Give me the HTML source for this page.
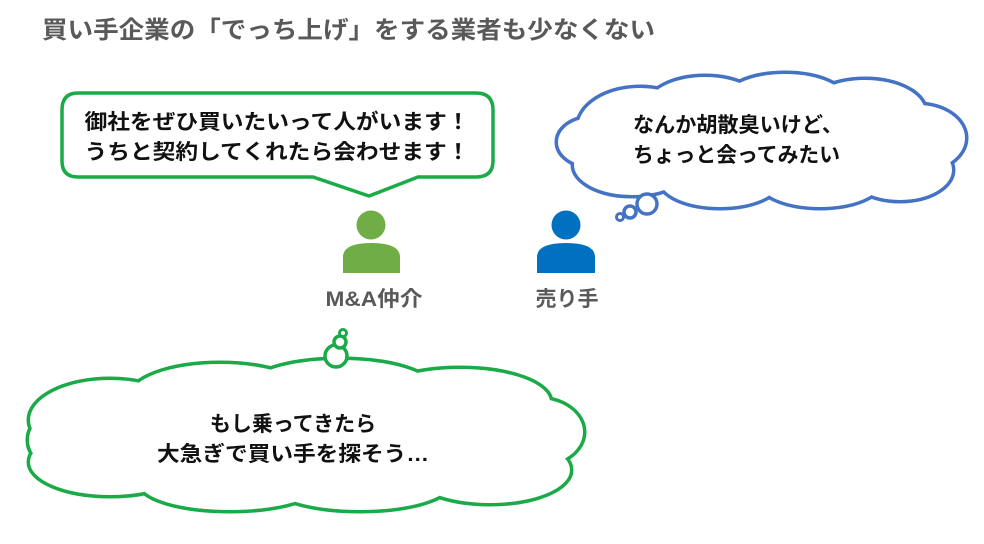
<!DOCTYPE html>
<html><head><meta charset="utf-8"><style>
body{margin:0;width:984px;height:539px;background:#fff;overflow:hidden}
svg text{font-family:"Liberation Sans","Noto Sans CJK JP",sans-serif;font-weight:bold}
</style></head><body>
<svg width="984" height="539" viewBox="0 0 984 539" xmlns="http://www.w3.org/2000/svg">
<text x="42" y="38" font-size="24" fill="#595959" textLength="613" lengthAdjust="spacingAndGlyphs">買い手企業の「でっち上げ」をする業者も少なくない</text>

<path d="M78,93 H476 Q493,93 493,110 V161 Q493,177 476,177 H418 L369,196 L313,177 H78 Q62,177 62,161 V110 Q62,93 78,93 Z" fill="#fff" stroke="#1aaa48" stroke-width="3.5"/>
<text x="277" y="129" font-size="21" fill="#111" text-anchor="middle" textLength="385" lengthAdjust="spacingAndGlyphs">御社をぜひ買いたいって人がいます！</text>
<text x="277" y="159" font-size="21" fill="#111" text-anchor="middle" textLength="385" lengthAdjust="spacingAndGlyphs">うちと契約してくれたら会わせます！</text>

<g stroke="#4472c4" stroke-width="7" fill="#fff">
<g>
<ellipse cx="640" cy="128" rx="62" ry="40"/><ellipse cx="705" cy="110" rx="60" ry="33"/>
<ellipse cx="785" cy="102" rx="62" ry="28"/><ellipse cx="865" cy="112" rx="60" ry="32"/>
<ellipse cx="918" cy="138" rx="47" ry="33"/><ellipse cx="900" cy="170" rx="52" ry="30"/>
<ellipse cx="820" cy="180" rx="62" ry="27"/><ellipse cx="720" cy="180" rx="60" ry="27"/>
<ellipse cx="632" cy="165" rx="58" ry="30"/><ellipse cx="592" cy="142" rx="34" ry="24"/>
</g>
<g stroke="none">
<ellipse cx="640" cy="128" rx="62" ry="40"/><ellipse cx="705" cy="110" rx="60" ry="33"/>
<ellipse cx="785" cy="102" rx="62" ry="28"/><ellipse cx="865" cy="112" rx="60" ry="32"/>
<ellipse cx="918" cy="138" rx="47" ry="33"/><ellipse cx="900" cy="170" rx="52" ry="30"/>
<ellipse cx="820" cy="180" rx="62" ry="27"/><ellipse cx="720" cy="180" rx="60" ry="27"/>
<ellipse cx="632" cy="165" rx="58" ry="30"/><ellipse cx="592" cy="142" rx="34" ry="24"/>
<ellipse cx="760" cy="140" rx="150" ry="45"/>
</g>
<circle cx="647" cy="204" r="10" stroke-width="3.5"/><circle cx="630" cy="212" r="6" stroke-width="3.5"/><circle cx="620" cy="217" r="3.5" stroke-width="3"/>
</g>
<text x="633" y="132" font-size="21" fill="#111" textLength="210" lengthAdjust="spacingAndGlyphs">なんか胡散臭いけど、</text>
<text x="633" y="162" font-size="21" fill="#111" textLength="207" lengthAdjust="spacingAndGlyphs">ちょっと会ってみたい</text>

<circle cx="371" cy="225" r="14.5" fill="#70ad47"/>
<path d="M343,273 V257 Q343,243 371,243 Q400,243 400,257 V273 Z" fill="#70ad47"/>
<circle cx="566" cy="225" r="14.5" fill="#0070c0"/>
<path d="M537,273 V257 Q537,243 566,243 Q595,243 595,257 V273 Z" fill="#0070c0"/>
<text x="374" y="306" font-size="21" fill="#595959" text-anchor="middle" textLength="97" lengthAdjust="spacingAndGlyphs">M&amp;A仲介</text>
<text x="567" y="306" font-size="21" fill="#595959" text-anchor="middle">売り手</text>

<g stroke="#1aaa48" stroke-width="7" fill="#fff">
<g>
<ellipse cx="110" cy="420" rx="80" ry="40"/><ellipse cx="220" cy="397" rx="90" ry="33"/>
<ellipse cx="340" cy="388" rx="92" ry="28"/><ellipse cx="460" cy="402" rx="90" ry="33"/>
<ellipse cx="538" cy="432" rx="45" ry="33"/><ellipse cx="490" cy="470" rx="80" ry="33"/>
<ellipse cx="360" cy="483" rx="90" ry="27"/><ellipse cx="230" cy="483" rx="90" ry="27"/>
<ellipse cx="110" cy="462" rx="80" ry="33"/><ellipse cx="62" cy="440" rx="33" ry="28"/>
</g>
<g stroke="none">
<ellipse cx="110" cy="420" rx="80" ry="40"/><ellipse cx="220" cy="397" rx="90" ry="33"/>
<ellipse cx="340" cy="388" rx="92" ry="28"/><ellipse cx="460" cy="402" rx="90" ry="33"/>
<ellipse cx="538" cy="432" rx="45" ry="33"/><ellipse cx="490" cy="470" rx="80" ry="33"/>
<ellipse cx="360" cy="483" rx="90" ry="27"/><ellipse cx="230" cy="483" rx="90" ry="27"/>
<ellipse cx="110" cy="462" rx="80" ry="33"/><ellipse cx="62" cy="440" rx="33" ry="28"/>
<ellipse cx="300" cy="440" rx="230" ry="50"/>
</g>
<circle cx="336" cy="356" r="11" stroke-width="3.5"/><circle cx="340" cy="342" r="6" stroke-width="3.5"/><circle cx="343" cy="333" r="3.5" stroke-width="3"/>
</g>
<text x="293" y="431" font-size="21" fill="#111" text-anchor="middle">もし乗ってきたら</text>
<text x="293" y="461" font-size="21" fill="#111" text-anchor="middle" textLength="272" lengthAdjust="spacingAndGlyphs">大急ぎで買い手を探そう…</text>
</svg>
</body></html>
